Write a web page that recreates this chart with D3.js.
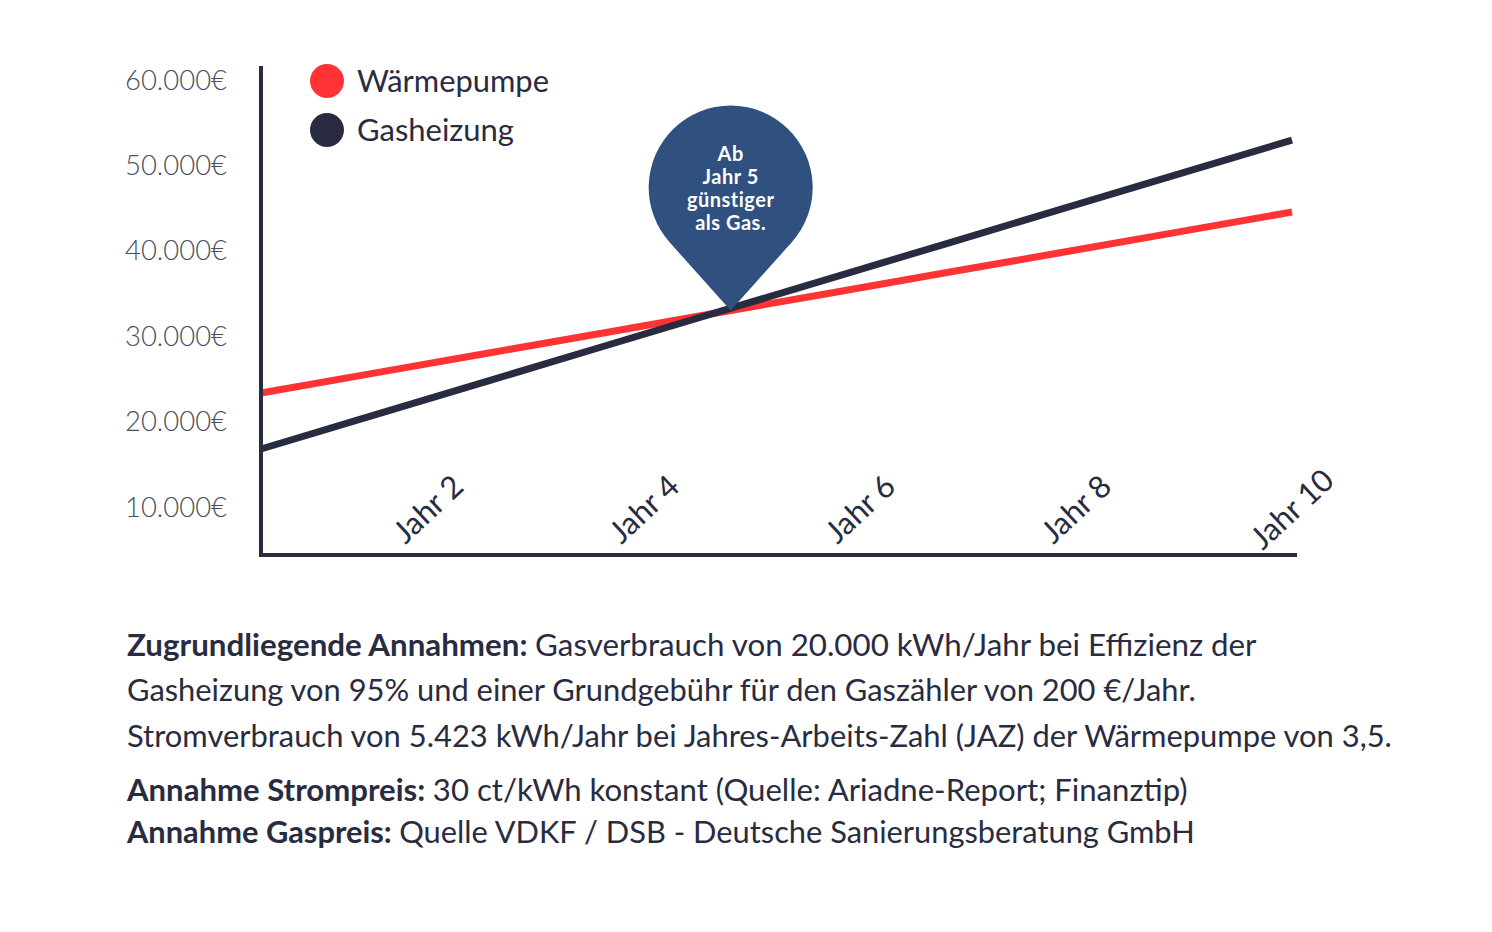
<!DOCTYPE html>
<html>
<head>
<meta charset="utf-8">
<script src="https://cdn.jsdelivr.net/npm/d3@7"></script>
<style>
  body { margin: 0; background: #fff; }
  svg { display: block; font-family: Lato, "Noto Sans", sans-serif; }
</style>
</head>
<body>
<div id="chart"></div>
<script>
// data
const years = [1, 2, 3, 4, 5, 6, 7, 8, 9, 10];
const waermepumpe = [23350, 25700, 28060, 30410, 32770, 35120, 37480, 39830, 42190, 44540];
const gasheizung = [16790, 20810, 24830, 28850, 32870, 36890, 40910, 44930, 48950, 52970];
const seriesNames = ["Wärmepumpe", "Gasheizung"];
const yTicks = [10000, 20000, 30000, 40000, 50000, 60000];
const xTickYears = [2, 4, 6, 8, 10];
const calloutLines = ["Ab", "Jahr 5", "günstiger", "als Gas."];
const calloutYear = 5.1;
const notes = [
  [["Zugrundliegende Annahmen: ", true], ["Gasverbrauch von 20.000 kWh/Jahr bei Effizienz der", false]],
  [["Gasheizung von 95% und einer Grundgebühr für den Gaszähler von 200 €/Jahr.", false]],
  [["Stromverbrauch von 5.423 kWh/Jahr bei Jahres-Arbeits-Zahl (JAZ) der Wärmepumpe von 3,5.", false]],
  [["Annahme Strompreis: ", true], ["30 ct/kWh konstant (Quelle: Ariadne-Report; Finanztip)", false]],
  [["Annahme Gaspreis: ", true], ["Quelle VDKF / DSB - Deutsche Sanierungsberatung GmbH", false]]
];

const w = 1492, h = 932;
const red = "#ff3333", navy = "#292c40", pin = "#30507f";

const svg = d3.select("#chart").append("svg").attr("width", w).attr("height", h);

const x = d3.scaleLinear().domain([1, 10]).range([261, 1292]);
const xLab = d3.scaleLinear().domain([2, 10]).range([428, 1292]);
const y = d3.scaleLinear().domain([10000, 60000]).range([507, 80]);

const de = d3.formatLocale({decimal: ",", thousands: ".", grouping: [3], currency: ["", "€"]});
const fmt = de.format(",.0f");

// shrink/grow font so the text spans a given width
function fitWidth(sel, target) {
  sel.each(function() {
    const t = d3.select(this);
    const fs = parseFloat(t.attr("font-size"));
    const len = this.getComputedTextLength();
    if (len > 0) t.attr("font-size", (fs * target / len).toFixed(2));
  });
}

// y labels
svg.selectAll(".ylab").data(yTicks).enter().append("text")
  .attr("class", "ylab")
  .attr("x", 125).attr("y", d => y(d))
  .attr("dy", "0.35em")
  .attr("font-size", 22).attr("font-weight", 300)
  .attr("fill", "#4b4e60")
  .text(d => fmt(d) + "€")
  .call(fitWidth, 102);

// lines
const line = d3.line().x((d, i) => x(years[i])).y(d => y(d));
svg.append("path").datum(waermepumpe).attr("d", line)
  .attr("fill", "none").attr("stroke", red).attr("stroke-width", 7);
svg.append("path").datum(gasheizung).attr("d", line)
  .attr("fill", "none").attr("stroke", navy).attr("stroke-width", 7);

// axes
svg.append("line").attr("x1", 261).attr("x2", 261).attr("y1", 66).attr("y2", 557)
  .attr("stroke", navy).attr("stroke-width", 4);
svg.append("line").attr("x1", 259).attr("x2", 1297).attr("y1", 555).attr("y2", 555)
  .attr("stroke", navy).attr("stroke-width", 4);

// x labels
const xl = svg.selectAll(".xlab").data(xTickYears).enter().append("text")
  .attr("class", "xlab")
  .attr("transform", d => `translate(${xLab(d)},509) rotate(-43)`)
  .attr("text-anchor", "middle").attr("dy", "0.35em")
  .attr("font-size", 24).attr("font-weight", 400)
  .attr("fill", navy)
  .text(d => "Jahr " + d);
const first = xl.filter((d, i) => i === 0);
first.call(fitWidth, 82);
xl.attr("font-size", first.attr("font-size"));

// legend
const legend = svg.append("g");
seriesNames.forEach((name, i) => {
  const cy = 81 + i * 49;
  legend.append("circle").attr("cx", 327).attr("cy", cy).attr("r", 17)
    .attr("fill", i === 0 ? red : navy);
  legend.append("text").attr("x", 357).attr("y", cy).attr("dy", "0.35em")
    .attr("font-size", 28).attr("fill", navy).text(name)
    .call(fitWidth, i === 0 ? 192 : 157);
});

// callout pin
const tipX = x(calloutYear);
const tipY = y(d3.interpolateNumber(waermepumpe[4], waermepumpe[5])(calloutYear - 5));
const r = 82, cx = tipX, cy = tipY - 123;
const d = tipY - cy;
const phi = Math.acos(r / d);
const lx = cx - r * Math.sin(phi), ly = cy + r * Math.cos(phi);
const rx = cx + r * Math.sin(phi);
svg.append("path")
  .attr("d", `M${tipX},${tipY} L${lx},${ly} A${r},${r} 0 1 1 ${rx},${ly} Z`)
  .attr("fill", pin);
svg.selectAll(".call").data(calloutLines).enter().append("text")
  .attr("class", "call")
  .attr("x", cx).attr("y", (d, i) => cy - 34 + i * 23)
  .attr("dy", "0.35em")
  .attr("text-anchor", "middle")
  .attr("font-size", 20).attr("font-weight", 700)
  .attr("letter-spacing", 0.5)
  .attr("fill", "#fff")
  .text(d => d);

// notes
const noteY = [645, 690, 736, 790, 832];
const noteW = [1130, 1069, 1265, 1061, 1068];
notes.forEach((parts, i) => {
  const t = svg.append("text").attr("x", 127).attr("y", noteY[i]).attr("dy", "0.35em")
    .attr("font-size", 27).attr("fill", navy);
  parts.forEach(p => {
    t.append("tspan").attr("font-weight", p[1] ? 700 : 400).text(p[0]);
  });
  t.call(fitWidth, noteW[i]);
});
</script>
</body>
</html>
